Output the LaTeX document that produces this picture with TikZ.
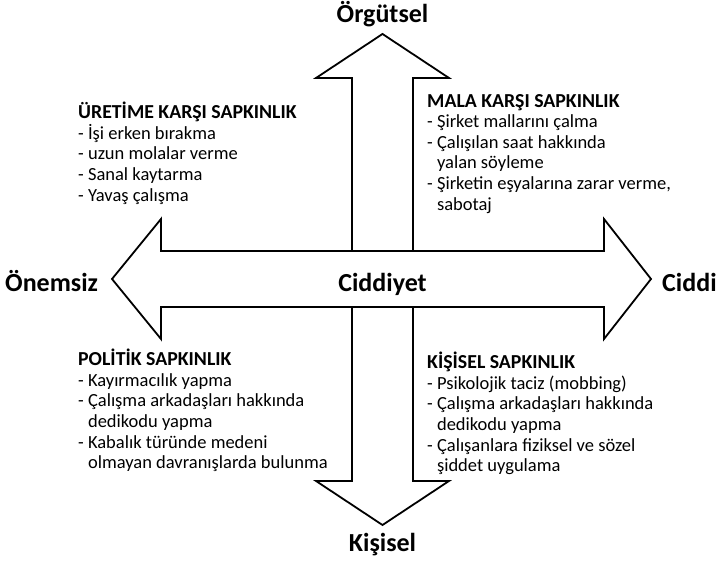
\documentclass[tikz,border=0pt]{standalone}
\usepackage{fontspec}
\setmainfont{Carlito}
\usepackage{tikz}

\newcommand{\cont}{\phantom{-~}}
\newcommand{\baslik}[1]{{\fontsize{19.8}{20.5}\selectfont\bfseries #1}}

\begin{document}
\begin{tikzpicture}[x=1pt,y=1pt,every node/.style={black,inner sep=0pt},
	axislabel/.style={font=\fontsize{26}{30}\selectfont\bfseries},
	itemlist/.style={font=\fontsize{18.5}{20.6}\selectfont,align=left,anchor=north west},
	bigarrow/.style={draw,line width=1.8pt,fill=white}]
	\useasboundingbox (0,0) rectangle (717,561);
	% dikey ok
	\draw[bigarrow] (382.5,527) coordinate (T) -- (449,483) -- (413,483) -- (413,80) -- (449,80)
	-- (382.5,36) coordinate (B) -- (316,80) -- (352,80) -- (352,483) -- (316,483) -- cycle;
	% yatay ok
	\draw[bigarrow] (112,282) coordinate (L) -- (161,342) -- (161,310) -- (604,310) -- (604,342)
	-- (651,282) coordinate (R) -- (604,222) -- (604,254) -- (161,254) -- (161,222) -- cycle;
	\node[axislabel,anchor=base] (org) at (382.5,538) {Örgütsel};
	\node[axislabel,anchor=base] (kis) at (382.5,9) {Kişisel};
	\node[axislabel,anchor=base west] (onem) at (5,269) {Önemsiz};
	\node[axislabel,anchor=base west] (cid) at (662,269) {Ciddi};
	\node[axislabel,anchor=base] (cidyet) at (382.5,269) {Ciddiyet};
	\node[itemlist] (uretim) at (78,459) {\baslik{ÜRETİME KARŞI SAPKINLIK}\\- İşi erken bırakma\\- uzun molalar verme\\- Sanal kaytarma\\- Yavaş çalışma};
	\node[itemlist] (mal) at (427,467) {\baslik{MALA KARŞI SAPKINLIK}\\- Şirket mallarını çalma\\- Çalışılan saat hakkında\\\cont yalan söyleme\\- Şirketin eşyalarına zarar verme,\\\cont sabotaj};
	\node[itemlist] (politik) at (78,212) {\baslik{POLİTİK SAPKINLIK}\\- Kayırmacılık yapma\\- Çalışma arkadaşları hakkında\\\cont dedikodu yapma\\- Kabalık türünde medeni\\\cont olmayan davranışlarda bulunma};
	\node[itemlist] (kisisel) at (427,209) {\baslik{KİŞİSEL SAPKINLIK}\\- Psikolojik taciz (mobbing)\\- Çalışma arkadaşları hakkında\\\cont dedikodu yapma\\- Çalışanlara fiziksel ve sözel\\\cont şiddet uygulama};
\end{tikzpicture}
\end{document}
